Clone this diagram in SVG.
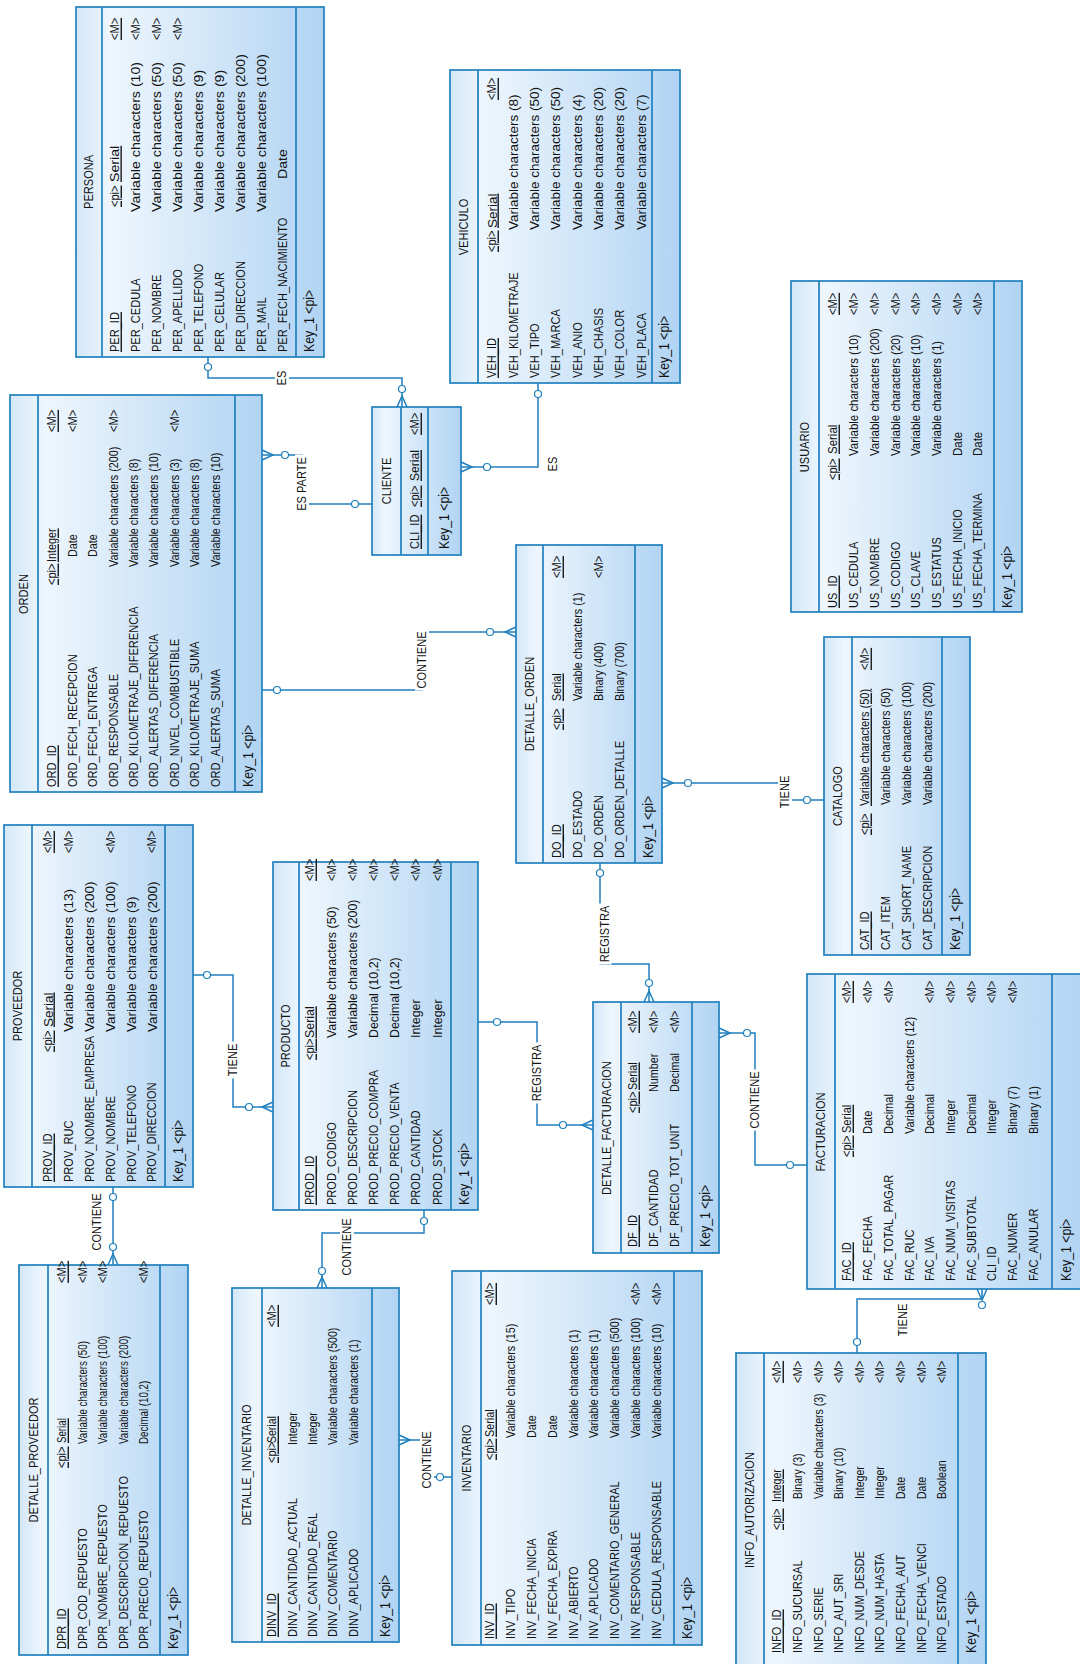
<svg xmlns="http://www.w3.org/2000/svg" width="1080" height="1664" viewBox="0 0 1080 1664">
<defs>
<linearGradient id="eg" x1="0" y1="0" x2="0" y2="1">
<stop offset="0" stop-color="#d3e7f8"/>
<stop offset="0.14" stop-color="#eef6fd"/>
<stop offset="1" stop-color="#b1d4f3"/>
</linearGradient>
<style>
.box{fill:url(#eg);stroke:#2180be;stroke-width:1.7}
.sep{fill:none;stroke:#2180be;stroke-width:1.7}
.n,.k,.lb,.t{font-family:"Liberation Sans",Arial,sans-serif;font-size:13.5px;fill:#121212;transform-box:fill-box;transform-origin:0 50%;transform:scaleX(0.82)}
.k{font-size:14px;transform:scaleX(0.88)}
.c{text-anchor:middle;transform-origin:50% 50%}
.u{text-decoration:underline}
.cn{fill:none;stroke:#1f7fbd;stroke-width:1.5}
.ci{fill:#fff;stroke:#1f7fbd;stroke-width:1.2}
.bg{fill:#fff}
.lb{text-anchor:middle;transform-origin:50% 50%}
#persona .t{transform:scaleX(1.05)}
#vehiculo .t{transform:scaleX(1)}
#usuario .t{transform:scaleX(0.85)}
#cliente .t{transform:scaleX(0.9)}
#orden .t{transform:scaleX(0.8)}
#detalle_orden .t{transform:scaleX(0.8)}
#catalogo .t{transform:scaleX(0.82)}
#proveedor .t{transform:scaleX(1)}
#producto .t{transform:scaleX(0.92)}
#detalle_facturacion .t{transform:scaleX(0.8)}
#facturacion .t{transform:scaleX(0.82)}
#info_autorizacion .t{transform:scaleX(0.78)}
#detalle_proveedor .t{transform:scaleX(0.72)}
#detalle_inventario .t{transform:scaleX(0.78)}
#inventario .t{transform:scaleX(0.8)}
</style>
</defs>
<rect x="0" y="0" width="1080" height="1664" fill="#fff"/>
<g transform="translate(0,1664) rotate(-90)">

<g id="connectors">
<path class="cn" d="M1307 208H1286V402H1257"/>
<circle class="ci" cx="1297" cy="208" r="3.5"/>
<path class="cn" d="M1257 397L1268 402L1257 407"/>
<circle class="ci" cx="1275" cy="402" r="3.5"/>
<rect class="bg" x="1276.5" y="275" width="19" height="14"/>
<text class="lb" x="1286" y="286.5">ES</text>

<path class="cn" d="M1281 538H1197V461"/>
<circle class="ci" cx="1270" cy="538" r="3.5"/>
<path class="cn" d="M1192 461L1197 472L1202 461"/>
<circle class="ci" cx="1197" cy="487" r="3.5"/>
<text class="lb" x="1200" y="557">ES</text>

<path class="cn" d="M1209 262V302H1160V372"/>
<path class="cn" d="M1204 262L1209 273L1214 262"/>
<circle class="ci" cx="1209" cy="285" r="3.5"/>
<circle class="ci" cx="1160" cy="355" r="3.5"/>
<rect class="bg" x="1150.5" y="295" width="59" height="14"/>
<text class="lb" x="1180" y="306.5">ES PARTE</text>

<path class="cn" d="M974 262V422H1032V516"/>
<circle class="ci" cx="974" cy="277" r="3.5"/>
<path class="cn" d="M1027 516L1032 505L1037 516"/>
<circle class="ci" cx="1032" cy="490" r="3.5"/>
<rect class="bg" x="973.5" y="415" width="61" height="14"/>
<text class="lb" x="1004" y="426.5">CONTIENE</text>

<path class="cn" d="M881 662V785H864V824"/>
<path class="cn" d="M876 662L881 673L886 662"/>
<circle class="ci" cx="881" cy="688" r="3.5"/>
<circle class="ci" cx="864" cy="807" r="3.5"/>
<rect class="bg" x="853.5" y="778" width="37" height="14"/>
<text class="lb" x="872" y="789.5">TIENE</text>

<path class="cn" d="M801 600H700V649H662"/>
<circle class="ci" cx="791" cy="600" r="3.5"/>
<path class="cn" d="M662 644L673 649L662 654"/>
<circle class="ci" cx="681" cy="649" r="3.5"/>
<rect class="bg" x="699.5" y="597.5" width="61" height="14"/>
<text class="lb" x="730" y="609">REGISTRA</text>

<path class="cn" d="M642 478V537H539V593"/>
<circle class="ci" cx="642" cy="497" r="3.5"/>
<path class="cn" d="M534 593L539 582L544 593"/>
<circle class="ci" cx="539" cy="563" r="3.5"/>
<rect class="bg" x="560.5" y="530" width="61" height="14"/>
<text class="lb" x="591" y="541.5">REGISTRA</text>

<path class="cn" d="M631 719V755H499V807"/>
<path class="cn" d="M626 719L631 730L636 719"/>
<circle class="ci" cx="631" cy="747" r="3.5"/>
<circle class="ci" cx="499" cy="790" r="3.5"/>
<rect class="bg" x="533.5" y="748" width="61" height="14"/>
<text class="lb" x="564" y="759.5">CONTIENE</text>

<path class="cn" d="M375 982H365V857H311"/>
<path class="cn" d="M375 977L364 982L375 987"/>
<circle class="ci" cx="359" cy="982" r="3.5"/>
<circle class="ci" cx="322" cy="857" r="3.5"/>
<text class="lb" x="344" y="907.5">TIENE</text>

<path class="cn" d="M689 193V233H557V273"/>
<circle class="ci" cx="689" cy="207" r="3.5"/>
<path class="cn" d="M552 273L557 262L562 273"/>
<circle class="ci" cx="557" cy="249" r="3.5"/>
<rect class="bg" x="585.5" y="226" width="37" height="14"/>
<text class="lb" x="604" y="237.5">TIENE</text>

<path class="cn" d="M477 113H399"/>
<circle class="ci" cx="467" cy="113" r="3.5"/>
<path class="cn" d="M399 108L410 113L399 118"/>
<circle class="ci" cx="417" cy="113" r="3.5"/>
<text class="lb" x="442" y="101">CONTIENE</text>

<path class="cn" d="M454 424H431V322H376"/>
<circle class="ci" cx="443" cy="424" r="3.5"/>
<path class="cn" d="M376 317L387 322L376 327"/>
<circle class="ci" cx="393" cy="322" r="3.5"/>
<rect class="bg" x="386.5" y="340" width="61" height="14"/>
<text class="lb" x="417" y="351.5">CONTIENE</text>

<path class="cn" d="M224 399V427H187V452"/>
<path class="cn" d="M219 399L224 410L229 399"/>
<circle class="ci" cx="187" cy="440" r="3.5"/>
<rect class="bg" x="173.5" y="420" width="61" height="14"/>
<text class="lb" x="204" y="431.5">CONTIENE</text>
</g>

<g id="persona">
<rect class="box" x="1307" y="76" width="350" height="248"/>
<path class="sep" d="M1307 102H1657M1307 296H1657"/>
<text class="n c" x="1482" y="93.5">PERSONA</text>
<text class="n u" x="1312" y="119.5">PER_ID</text><text class="n u" x="1457" y="119.5">&lt;pi&gt;</text><text class="t u" x="1482" y="119.5">Serial</text><text class="n u" x="1624" y="119.5">&lt;M&gt;</text>
<text class="n" x="1312" y="140.5">PER_CEDULA</text><text class="t" x="1452" y="140.5">Variable characters (10)</text><text class="n" x="1624" y="140.5">&lt;M&gt;</text>
<text class="n" x="1312" y="161.5">PER_NOMBRE</text><text class="t" x="1452" y="161.5">Variable characters (50)</text><text class="n" x="1624" y="161.5">&lt;M&gt;</text>
<text class="n" x="1312" y="182.5">PER_APELLIDO</text><text class="t" x="1452" y="182.5">Variable characters (50)</text><text class="n" x="1624" y="182.5">&lt;M&gt;</text>
<text class="n" x="1312" y="203.5">PER_TELEFONO</text><text class="t" x="1452" y="203.5">Variable characters (9)</text>
<text class="n" x="1312" y="224.5">PER_CELULAR</text><text class="t" x="1452" y="224.5">Variable characters (9)</text>
<text class="n" x="1312" y="245.5">PER_DIRECCION</text><text class="t" x="1452" y="245.5">Variable characters (200)</text>
<text class="n" x="1312" y="266.5">PER_MAIL</text><text class="t" x="1452" y="266.5">Variable characters (100)</text>
<text class="n" x="1312" y="287.5">PER_FECH_NACIMIENTO</text><text class="t" x="1485" y="287.5">Date</text>
<text class="k" x="1312" y="314.5">Key_1 &lt;pi&gt;</text>
</g>

<g id="vehiculo">
<rect class="box" x="1281" y="450" width="313" height="230"/>
<path class="sep" d="M1281 478H1594M1281 652H1594"/>
<text class="n c" x="1437" y="468.5">VEHICULO</text>
<text class="n u" x="1286" y="496.5">VEH_ID</text><text class="n u" x="1412" y="496.5">&lt;pi&gt;</text><text class="t u" x="1436" y="496.5">Serial</text><text class="n u" x="1564" y="496.5">&lt;M&gt;</text>
<text class="n" x="1286" y="517.8">VEH_KILOMETRAJE</text><text class="t" x="1434" y="517.8">Variable characters (8)</text>
<text class="n" x="1286" y="539.1">VEH_TIPO</text><text class="t" x="1434" y="539.1">Variable characters (50)</text>
<text class="n" x="1286" y="560.4">VEH_MARCA</text><text class="t" x="1434" y="560.4">Variable characters (50)</text>
<text class="n" x="1286" y="581.7">VEH_ANIO</text><text class="t" x="1434" y="581.7">Variable characters (4)</text>
<text class="n" x="1286" y="603">VEH_CHASIS</text><text class="t" x="1434" y="603">Variable characters (20)</text>
<text class="n" x="1286" y="624.3">VEH_COLOR</text><text class="t" x="1434" y="624.3">Variable characters (20)</text>
<text class="n" x="1286" y="645.6">VEH_PLACA</text><text class="t" x="1434" y="645.6">Variable characters (7)</text>
<text class="k" x="1286" y="669">Key_1 &lt;pi&gt;</text>
</g>

<g id="usuario">
<rect class="box" x="1052" y="791" width="331" height="231"/>
<path class="sep" d="M1052 819H1383M1052 994H1383"/>
<text class="n c" x="1217" y="809.5">USUARIO</text>
<text class="n u" x="1056" y="837.5">US_ID</text><text class="n u" x="1184" y="837.5">&lt;pi&gt;</text><text class="t u" x="1210" y="837.5">Serial</text><text class="n u" x="1349" y="837.5">&lt;M&gt;</text>
<text class="n" x="1056" y="858.2">US_CEDULA</text><text class="t" x="1208" y="858.2">Variable characters (10)</text><text class="n" x="1349" y="858.2">&lt;M&gt;</text>
<text class="n" x="1056" y="878.9">US_NOMBRE</text><text class="t" x="1208" y="878.9">Variable characters (200)</text><text class="n" x="1349" y="878.9">&lt;M&gt;</text>
<text class="n" x="1056" y="899.6">US_CODIGO</text><text class="t" x="1208" y="899.6">Variable characters (20)</text><text class="n" x="1349" y="899.6">&lt;M&gt;</text>
<text class="n" x="1056" y="920.3">US_CLAVE</text><text class="t" x="1208" y="920.3">Variable characters (10)</text><text class="n" x="1349" y="920.3">&lt;M&gt;</text>
<text class="n" x="1056" y="941">US_ESTATUS</text><text class="t" x="1208" y="941">Variable characters (1)</text><text class="n" x="1349" y="941">&lt;M&gt;</text>
<text class="n" x="1056" y="961.7">US_FECHA_INICIO</text><text class="t" x="1208" y="961.7">Date</text><text class="n" x="1349" y="961.7">&lt;M&gt;</text>
<text class="n" x="1056" y="982.4">US_FECHA_TERMINA</text><text class="t" x="1208" y="982.4">Date</text><text class="n" x="1349" y="982.4">&lt;M&gt;</text>
<text class="k" x="1056" y="1012.5">Key_1 &lt;pi&gt;</text>
</g>

<g id="cliente">
<rect class="box" x="1109" y="372" width="148" height="89"/>
<path class="sep" d="M1109 401H1257M1109 428H1257"/>
<text class="n c" x="1183" y="391">CLIENTE</text>
<text class="n u" x="1115" y="419.5">CLI_ID</text><text class="n u" x="1157" y="419.5">&lt;pi&gt;</text><text class="t u" x="1183" y="419.5">Serial</text><text class="n u" x="1229" y="419.5">&lt;M&gt;</text>
<text class="k" x="1115" y="449">Key_1 &lt;pi&gt;</text>
</g>

<g id="orden">
<rect class="box" x="872" y="10" width="397" height="252"/>
<path class="sep" d="M872 38H1269M872 235H1269"/>
<text class="n c" x="1070" y="28.5">ORDEN</text>
<text class="n u" x="877" y="56.5">ORD_ID</text><text class="n u" x="1079" y="56.5">&lt;pi&gt;</text><text class="t u" x="1102" y="56.5">Integer</text><text class="n u" x="1232" y="56.5">&lt;M&gt;</text>
<text class="n" x="877" y="76.9">ORD_FECH_RECEPCION</text><text class="t" x="1107" y="76.9">Date</text><text class="n" x="1232" y="76.9">&lt;M&gt;</text>
<text class="n" x="877" y="97.3">ORD_FECH_ENTREGA</text><text class="t" x="1107" y="97.3">Date</text>
<text class="n" x="877" y="117.7">ORD_RESPONSABLE</text><text class="t" x="1097" y="117.7">Variable characters (200)</text><text class="n" x="1232" y="117.7">&lt;M&gt;</text>
<text class="n" x="877" y="138.1">ORD_KILOMETRAJE_DIFERENCIA</text><text class="t" x="1097" y="138.1">Variable characters (8)</text>
<text class="n" x="877" y="158.5">ORD_ALERTAS_DIFERENCIA</text><text class="t" x="1097" y="158.5">Variable characters (10)</text>
<text class="n" x="877" y="178.9">ORD_NIVEL_COMBUSTIBLE</text><text class="t" x="1097" y="178.9">Variable characters (3)</text><text class="n" x="1232" y="178.9">&lt;M&gt;</text>
<text class="n" x="877" y="199.3">ORD_KILOMETRAJE_SUMA</text><text class="t" x="1097" y="199.3">Variable characters (8)</text>
<text class="n" x="877" y="219.7">ORD_ALERTAS_SUMA</text><text class="t" x="1097" y="219.7">Variable characters (10)</text>
<text class="k" x="877" y="253">Key_1 &lt;pi&gt;</text>
</g>

<g id="detalle_orden">
<rect class="box" x="801" y="516" width="318" height="146"/>
<path class="sep" d="M801 543H1119M801 635H1119"/>
<text class="n c" x="960" y="534">DETALLE_ORDEN</text>
<text class="n u" x="806" y="561.5">DO_ID</text><text class="n u" x="934" y="561.5">&lt;pi&gt;</text><text class="t u" x="963" y="561.5">Serial</text><text class="n u" x="1086" y="561.5">&lt;M&gt;</text>
<text class="n" x="806" y="582.5">DO_ESTADO</text><text class="t" x="963" y="582.5">Variable characters (1)</text>
<text class="n" x="806" y="603.5">DO_ORDEN</text><text class="t" x="963" y="603.5">Binary (400)</text><text class="n" x="1086" y="603.5">&lt;M&gt;</text>
<text class="n" x="806" y="624.5">DO_ORDEN_DETALLE</text><text class="t" x="963" y="624.5">Binary (700)</text>
<text class="k" x="806" y="653">Key_1 &lt;pi&gt;</text>
</g>

<g id="catalogo">
<rect class="box" x="709" y="824" width="318" height="146"/>
<path class="sep" d="M709 852H1027M709 942H1027"/>
<text class="n c" x="868" y="842.5">CATALOGO</text>
<text class="n u" x="714" y="869.5">CAT_ID</text><text class="n u" x="829" y="869.5">&lt;pi&gt;</text><text class="t u" x="858" y="869.5">Variable characters (50)</text><text class="n u" x="994" y="869.5">&lt;M&gt;</text>
<text class="n" x="714" y="890.2">CAT_ITEM</text><text class="t" x="859" y="890.2">Variable characters (50)</text>
<text class="n" x="714" y="910.9">CAT_SHORT_NAME</text><text class="t" x="859" y="910.9">Variable characters (100)</text>
<text class="n" x="714" y="931.6">CAT_DESCRIPCION</text><text class="t" x="859" y="931.6">Variable characters (200)</text>
<text class="k" x="714" y="960.5">Key_1 &lt;pi&gt;</text>
</g>

<g id="proveedor">
<rect class="box" x="477" y="4" width="362" height="189"/>
<path class="sep" d="M477 32H839M477 165H839"/>
<text class="n c" x="658" y="22.5">PROVEEDOR</text>
<text class="n u" x="482" y="52.5">PROV_ID</text><text class="n u" x="612" y="52.5">&lt;pi&gt;</text><text class="t u" x="637" y="52.5">Serial</text><text class="n u" x="811" y="52.5">&lt;M&gt;</text>
<text class="n" x="482" y="73.3">PROV_RUC</text><text class="t" x="632" y="73.3">Variable characters (13)</text><text class="n" x="811" y="73.3">&lt;M&gt;</text>
<text class="n" x="482" y="94.1">PROV_NOMBRE_EMPRESA</text><text class="t" x="632" y="94.1">Variable characters (200)</text>
<text class="n" x="482" y="114.9">PROV_NOMBRE</text><text class="t" x="632" y="114.9">Variable characters (100)</text><text class="n" x="811" y="114.9">&lt;M&gt;</text>
<text class="n" x="482" y="135.7">PROV_TELEFONO</text><text class="t" x="632" y="135.7">Variable characters (9)</text>
<text class="n" x="482" y="156.5">PROV_DIRECCION</text><text class="t" x="632" y="156.5">Variable characters (200)</text><text class="n" x="811" y="156.5">&lt;M&gt;</text>
<text class="k" x="482" y="183.5">Key_1 &lt;pi&gt;</text>
</g>

<g id="producto">
<rect class="box" x="454" y="273" width="348" height="205"/>
<path class="sep" d="M454 299H802M454 451H802"/>
<text class="n c" x="628" y="290.5">PRODUCTO</text>
<text class="n u" x="459" y="314.5">PROD_ID</text><text class="n u" x="604" y="314.5">&lt;pi&gt;</text><text class="t u" x="626" y="314.5">Serial</text><text class="n u" x="783" y="314.5">&lt;M&gt;</text>
<text class="n" x="459" y="335.7">PROD_CODIGO</text><text class="t" x="626" y="335.7">Variable characters (50)</text><text class="n" x="783" y="335.7">&lt;M&gt;</text>
<text class="n" x="459" y="356.9">PROD_DESCRIPCION</text><text class="t" x="626" y="356.9">Variable characters (200)</text><text class="n" x="783" y="356.9">&lt;M&gt;</text>
<text class="n" x="459" y="378.1">PROD_PRECIO_COMPRA</text><text class="t" x="626" y="378.1">Decimal (10,2)</text><text class="n" x="783" y="378.1">&lt;M&gt;</text>
<text class="n" x="459" y="399.3">PROD_PRECIO_VENTA</text><text class="t" x="626" y="399.3">Decimal (10,2)</text><text class="n" x="783" y="399.3">&lt;M&gt;</text>
<text class="n" x="459" y="420.5">PROD_CANTIDAD</text><text class="t" x="626" y="420.5">Integer</text><text class="n" x="783" y="420.5">&lt;M&gt;</text>
<text class="n" x="459" y="441.7">PROD_STOCK</text><text class="t" x="626" y="441.7">Integer</text><text class="n" x="783" y="441.7">&lt;M&gt;</text>
<text class="k" x="459" y="469">Key_1 &lt;pi&gt;</text>
</g>

<g id="detalle_facturacion">
<rect class="box" x="411" y="593" width="251" height="126"/>
<path class="sep" d="M411 621H662M411 692H662"/>
<text class="n c" x="536" y="611.5">DETALLE_FACTURACION</text>
<text class="n u" x="417" y="637.5">DF_ID</text><text class="n u" x="551" y="637.5">&lt;pi&gt;</text><text class="t u" x="574" y="637.5">Serial</text><text class="n u" x="631" y="637.5">&lt;M&gt;</text>
<text class="n" x="417" y="658.5">DF_CANTIDAD</text><text class="t" x="572" y="658.5">Number</text><text class="n" x="631" y="658.5">&lt;M&gt;</text>
<text class="n" x="417" y="679.5">DF_PRECIO_TOT_UNIT</text><text class="t" x="572" y="679.5">Decimal</text><text class="n" x="631" y="679.5">&lt;M&gt;</text>
<text class="k" x="417" y="710">Key_1 &lt;pi&gt;</text>
</g>

<g id="facturacion">
<rect class="box" x="375" y="807" width="315" height="276"/>
<path class="sep" d="M375 835H690M375 1052H690"/>
<text class="n c" x="532" y="825.5">FACTURACION</text>
<text class="n u" x="383" y="851.5">FAC_ID</text><text class="n u" x="507" y="851.5">&lt;pi&gt;</text><text class="t u" x="531" y="851.5">Serial</text><text class="n u" x="661" y="851.5">&lt;M&gt;</text>
<text class="n" x="383" y="872.2">FAC_FECHA</text><text class="t" x="530" y="872.2">Date</text><text class="n" x="661" y="872.2">&lt;M&gt;</text>
<text class="n" x="383" y="892.9">FAC_TOTAL_PAGAR</text><text class="t" x="530" y="892.9">Decimal</text><text class="n" x="661" y="892.9">&lt;M&gt;</text>
<text class="n" x="383" y="913.6">FAC_RUC</text><text class="t" x="530" y="913.6">Variable characters (12)</text>
<text class="n" x="383" y="934.3">FAC_IVA</text><text class="t" x="530" y="934.3">Decimal</text><text class="n" x="661" y="934.3">&lt;M&gt;</text>
<text class="n" x="383" y="955">FAC_NUM_VISITAS</text><text class="t" x="530" y="955">Integer</text><text class="n" x="661" y="955">&lt;M&gt;</text>
<text class="n" x="383" y="975.7">FAC_SUBTOTAL</text><text class="t" x="530" y="975.7">Decimal</text><text class="n" x="661" y="975.7">&lt;M&gt;</text>
<text class="n" x="383" y="996.4">CLI_ID</text><text class="t" x="530" y="996.4">Integer</text><text class="n" x="661" y="996.4">&lt;M&gt;</text>
<text class="n" x="383" y="1017.1">FAC_NUMER</text><text class="t" x="530" y="1017.1">Binary (7)</text><text class="n" x="661" y="1017.1">&lt;M&gt;</text>
<text class="n" x="383" y="1037.8">FAC_ANULAR</text><text class="t" x="530" y="1037.8">Binary (1)</text>
<text class="k" x="383" y="1071">Key_1 &lt;pi&gt;</text>
</g>

<g id="info_autorizacion">
<rect class="box" x="-4" y="736" width="315" height="250"/>
<path class="sep" d="M-4 764H311M-4 958H311"/>
<text class="n c" x="154" y="754.5">INFO_AUTORIZACION</text>
<text class="n u" x="11" y="781.5">INFO_ID</text><text class="n u" x="134" y="781.5">&lt;pi&gt;</text><text class="t u" x="162" y="781.5">Integer</text><text class="n u" x="281" y="781.5">&lt;M&gt;</text>
<text class="n" x="11" y="802.1">INFO_SUCURSAL</text><text class="t" x="165" y="802.1">Binary (3)</text><text class="n" x="281" y="802.1">&lt;M&gt;</text>
<text class="n" x="11" y="822.7">INFO_SERIE</text><text class="t" x="165" y="822.7">Variable characters (3)</text><text class="n" x="281" y="822.7">&lt;M&gt;</text>
<text class="n" x="11" y="843.3">INFO_AUT_SRI</text><text class="t" x="165" y="843.3">Binary (10)</text><text class="n" x="281" y="843.3">&lt;M&gt;</text>
<text class="n" x="11" y="863.9">INFO_NUM_DESDE</text><text class="t" x="165" y="863.9">Integer</text><text class="n" x="281" y="863.9">&lt;M&gt;</text>
<text class="n" x="11" y="884.5">INFO_NUM_HASTA</text><text class="t" x="165" y="884.5">Integer</text><text class="n" x="281" y="884.5">&lt;M&gt;</text>
<text class="n" x="11" y="905.1">INFO_FECHA_AUT</text><text class="t" x="165" y="905.1">Date</text><text class="n" x="281" y="905.1">&lt;M&gt;</text>
<text class="n" x="11" y="925.7">INFO_FECHA_VENCI</text><text class="t" x="165" y="925.7">Date</text><text class="n" x="281" y="925.7">&lt;M&gt;</text>
<text class="n" x="11" y="946.3">INFO_ESTADO</text><text class="t" x="165" y="946.3">Boolean</text><text class="n" x="281" y="946.3">&lt;M&gt;</text>
<text class="k" x="11" y="976.5">Key_1 &lt;pi&gt;</text>
</g>

<g id="detalle_proveedor">
<rect class="box" x="9" y="19" width="390" height="169"/>
<path class="sep" d="M9 48H399M9 160H399"/>
<text class="n c" x="204" y="38">DETALLE_PROVEEDOR</text>
<text class="n u" x="15" y="66.5">DPR_ID</text><text class="n u" x="196" y="66.5">&lt;pi&gt;</text><text class="t u" x="221" y="66.5">Serial</text><text class="n u" x="381" y="66.5">&lt;M&gt;</text>
<text class="n" x="15" y="86.9">DPR_COD_REPUESTO</text><text class="t" x="220" y="86.9">Variable characters (50)</text><text class="n" x="381" y="86.9">&lt;M&gt;</text>
<text class="n" x="15" y="107.3">DPR_NOMBRE_REPUESTO</text><text class="t" x="220" y="107.3">Variable characters (100)</text><text class="n" x="381" y="107.3">&lt;M&gt;</text>
<text class="n" x="15" y="127.7">DPR_DESCRIPCION_REPUESTO</text><text class="t" x="220" y="127.7">Variable characters (200)</text>
<text class="n" x="15" y="148.1">DPR_PRECIO_REPUESTO</text><text class="t" x="220" y="148.1">Decimal (10,2)</text><text class="n" x="381" y="148.1">&lt;M&gt;</text>
<text class="k" x="15" y="178.5">Key_1 &lt;pi&gt;</text>
</g>

<g id="detalle_inventario">
<rect class="box" x="22" y="232" width="354" height="167"/>
<path class="sep" d="M22 262H376M22 372H376"/>
<text class="n c" x="199" y="251.5">DETALLE_INVENTARIO</text>
<text class="n u" x="27" y="276.5">DINV_ID</text><text class="n u" x="201" y="276.5">&lt;pi&gt;</text><text class="t u" x="221" y="276.5">Serial</text><text class="n u" x="337" y="276.5">&lt;M&gt;</text>
<text class="n" x="27" y="296.8">DINV_CANTIDAD_ACTUAL</text><text class="t" x="219" y="296.8">Integer</text>
<text class="n" x="27" y="317.1">DINV_CANTIDAD_REAL</text><text class="t" x="219" y="317.1">Integer</text>
<text class="n" x="27" y="337.4">DINV_COMENTARIO</text><text class="t" x="219" y="337.4">Variable characters (500)</text>
<text class="n" x="27" y="357.7">DINV_APLICADO</text><text class="t" x="219" y="357.7">Variable characters (1)</text>
<text class="k" x="27" y="390">Key_1 &lt;pi&gt;</text>
</g>

<g id="inventario">
<rect class="box" x="19" y="452" width="374" height="250"/>
<path class="sep" d="M19 481H393M19 674H393"/>
<text class="n c" x="206" y="471">INVENTARIO</text>
<text class="n u" x="25" y="494.5">INV_ID</text><text class="n u" x="204" y="494.5">&lt;pi&gt;</text><text class="t u" x="227" y="494.5">Serial</text><text class="n u" x="359" y="494.5">&lt;M&gt;</text>
<text class="n" x="25" y="515.3">INV_TIPO</text><text class="t" x="226" y="515.3">Variable characters (15)</text>
<text class="n" x="25" y="536.1">INV_FECHA_INICIA</text><text class="t" x="226" y="536.1">Date</text>
<text class="n" x="25" y="556.9">INV_FECHA_EXPIRA</text><text class="t" x="226" y="556.9">Date</text>
<text class="n" x="25" y="577.7">INV_ABIERTO</text><text class="t" x="226" y="577.7">Variable characters (1)</text>
<text class="n" x="25" y="598.5">INV_APLICADO</text><text class="t" x="226" y="598.5">Variable characters (1)</text>
<text class="n" x="25" y="619.3">INV_COMENTARIO_GENERAL</text><text class="t" x="226" y="619.3">Variable characters (500)</text>
<text class="n" x="25" y="640.1">INV_RESPONSABLE</text><text class="t" x="226" y="640.1">Variable characters (100)</text><text class="n" x="359" y="640.1">&lt;M&gt;</text>
<text class="n" x="25" y="660.9">INV_CEDULA_RESPONSABLE</text><text class="t" x="226" y="660.9">Variable characters (10)</text><text class="n" x="359" y="660.9">&lt;M&gt;</text>
<text class="k" x="25" y="692">Key_1 &lt;pi&gt;</text>
</g>

</g>
</svg>
